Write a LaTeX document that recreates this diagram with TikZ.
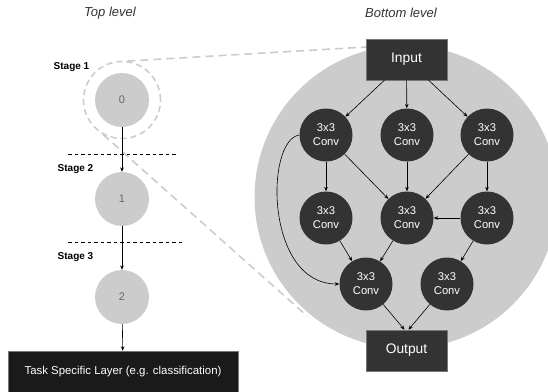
\documentclass[tikz,border=0pt]{standalone}
\usepackage{fontspec}
\setmainfont{Liberation Sans}
\usetikzlibrary{arrows.meta}
\definecolor{cdark}{HTML}{333333}
\definecolor{cblack}{HTML}{1A1A1A}
\definecolor{clight}{HTML}{CCCCCC}
\definecolor{cgray}{HTML}{666666}
\definecolor{cedge}{HTML}{777777}
\begin{document}
\begin{tikzpicture}[x=1pt,y=-1pt,
  conv/.style={circle, fill=cdark, minimum size=53pt, inner sep=0pt, text=white, font=\fontsize{11.2}{14}\selectfont, align=center},
  iobox/.style={rectangle, fill=cdark, draw=cedge, line width=0.6pt, minimum width=81pt, minimum height=41pt, inner sep=0pt, text=white, font=\fontsize{13.8}{16}\selectfont},
  topnode/.style={circle, fill=clight, minimum size=54pt, inner sep=0pt, text=cgray, font=\fontsize{11}{13}\selectfont},
  arr/.style={-{Stealth[length=4.5pt,width=3.6pt]}, line width=0.6pt, black},
  stagelbl/.style={font=\bfseries\fontsize{10}{12}\selectfont},
  title/.style={font=\itshape\fontsize{13}{15}\selectfont, text=black!80},
  sep/.style={dash pattern=on 3.5pt off 3pt, line width=0.8pt, black},
  zoomline/.style={clight, line width=1.6pt, dash pattern=on 8pt off 5pt}
]
\useasboundingbox (0,0) rectangle (548,391);

% titles
\node[title] (ttop) at (110,13) {Top level};
\node[title] (tbot) at (401,13) {Bottom level};

% top level nodes
\node[topnode] (t0) at (122,100) {0};
\node[topnode] (t1) at (122,199) {1};
\node[topnode] (t2) at (122,297) {2};
\node[circle, draw=clight, line width=1.6pt, dash pattern=on 6pt off 4pt, minimum size=77pt, inner sep=0pt] (ring) at (122,100) {};

% zoom lines
\coordinate (zA) at (366,47);
\coordinate (zB) at (307,316);
\draw[zoomline] (ring.82) -- (zA);
\draw[zoomline] (ring.241) -- (zB);

% big circle
\fill[clight] (406,197) circle[radius=151.5];

% stage labels and separators
\node[stagelbl] (s1) at (71.5,67) {Stage 1};
\node[stagelbl] (s2) at (75.5,169) {Stage 2};
\node[stagelbl] (s3) at (75.5,257) {Stage 3};
\draw[sep] (68,154) -- (178,154);
\draw[sep] (68,242) -- (184,242);

% task box
\node[rectangle, fill=cblack, draw=cedge, line width=0.5pt, minimum width=230pt, minimum height=41pt, inner sep=0pt, text=white, font=\fontsize{11.4}{14}\selectfont] (task) at (123,371.5) {Task Specific Layer (e.g. classification)};

\draw[arr] (t0) -- (t1);
\draw[arr] (t1) -- (t2);
\draw[arr] (t2) -- (task);

% bottom level
\node[iobox] (in) at (406.5,59.5) {Input};
\node[iobox] (out) at (406.5,350.5) {Output};
\node[conv] (c11) at (326,135) {3x3\\Conv};
\node[conv] (c12) at (407,135) {3x3\\Conv};
\node[conv] (c13) at (487,135) {3x3\\Conv};
\node[conv] (c21) at (326,218) {3x3\\Conv};
\node[conv] (c22) at (407,218) {3x3\\Conv};
\node[conv] (c23) at (487,218) {3x3\\Conv};
\node[conv] (c31) at (366,284) {3x3\\Conv};
\node[conv] (c32) at (447,284) {3x3\\Conv};

\draw[arr] (in) -- (c11);
\draw[arr] (in) -- (c12);
\draw[arr] (in) -- (c13);
\draw[arr] (c11) -- (c21);
\draw[arr] (c11) -- (c22);
\draw[arr] (c12) -- (c22);
\draw[arr] (c13) -- (c22);
\draw[arr] (c13) -- (c23);
\draw[arr] (c23) -- (c22);
\draw[arr] (c11.west) .. controls (265,140) and (265,284) .. (c31.west);
\draw[arr] (c21) -- (c31);
\draw[arr] (c22) -- (c31);
\draw[arr] (c23) -- (c32);
\draw[arr] (c31) -- ([xshift=-2pt]out.north);
\draw[arr] (c32) -- ([xshift=2pt]out.north);
\end{tikzpicture}
\end{document}
